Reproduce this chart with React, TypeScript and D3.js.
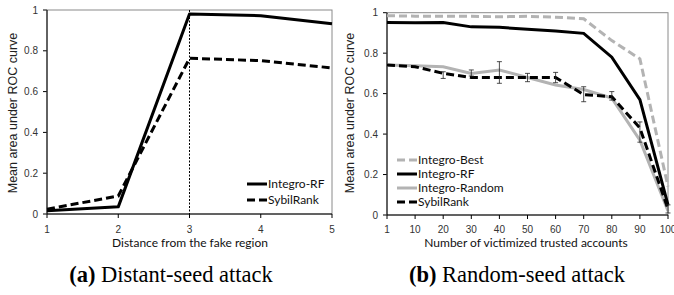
import * as d3 from "d3";

const distCats = [1, 2, 3, 4, 5];
const distRF = [0.016, 0.035, 0.98, 0.972, 0.933];
const distSybil = [0.024, 0.088, 0.763, 0.752, 0.716];

const victimCats = ["1", "10", "20", "30", "40", "50", "60", "70", "80", "90", "100"];
const randBest = [0.985, 0.983, 0.983, 0.982, 0.98, 0.982, 0.978, 0.97, 0.862, 0.772, 0.14];
const randRF = [0.951, 0.95, 0.952, 0.93, 0.928, 0.918, 0.909, 0.898, 0.78, 0.57, 0.05];
const randRandom = [0.741, 0.738, 0.733, 0.7, 0.717, 0.68, 0.643, 0.62, 0.578, 0.37, 0.02];
const randSybil = [0.741, 0.733, 0.7, 0.68, 0.68, 0.68, 0.68, 0.595, 0.585, 0.43, 0.03];
const errCats = ["20", "30", "40", "50", "60", "70", "80", "90", "100"];
const errLow = [0.675, 0.687, 0.651, 0.659, 0.654, 0.56, 0.568, 0.36, 0.01];
const errHigh = [0.708, 0.717, 0.758, 0.7, 0.705, 0.634, 0.61, 0.46, 0.05];

const yTicks = [0, 0.2, 0.4, 0.6, 0.8, 1];
const yTickLabels = ["0", "0.2", "0.4", "0.6", "0.8", "1"];

const tickFont = "'Liberation Sans', Arial, sans-serif";
const legFont = "Lato, 'Open Sans', sans-serif";
const capFont = "'Liberation Serif', 'Times New Roman', serif";
const BLACK = "#000";
const GRAY = "#b3b3b3";

type Style = { color: string; dash?: string; width: number };

function YAxis({ y, x0, x1 }: { y: d3.ScaleLinear<number, number>; x0: number; x1: number }) {
  return (
    <g>
      {yTicks.map((t, i) => (
        <g key={i}>
          <line x1={x0 - 4} x2={x0} y1={y(t)} y2={y(t)} stroke="#000" />
          <text x={x0 - 9} y={y(t)} dy="0.35em" textAnchor="end" fontSize={10} fontFamily={tickFont} fill="#333">
            {yTickLabels[i]}
          </text>
        </g>
      ))}
      <rect x={x0} y={y(1)} width={x1 - x0} height={y(0) - y(1)} fill="none" stroke="#8a8a8a" strokeWidth={1} />
      <line x1={x0} x2={x0} y1={y(1)} y2={y(0)} stroke="#000" />
      <line x1={x0} x2={x1} y1={y(0)} y2={y(0)} stroke="#000" />
    </g>
  );
}

function Legend({ x, y, gap, items }: { x: number; y: number; gap: number; items: { label: string; s: Style }[] }) {
  return (
    <g>
      {items.map((it, i) => (
        <g key={it.label} transform={`translate(${x},${y + i * gap})`}>
          <line x1={0} x2={20} y1={0} y2={0} stroke={it.s.color} strokeWidth={it.s.width} strokeDasharray={it.s.dash} />
          <text x={21} y={0} dy="0.35em" fontSize={12} fontFamily={legFont} fill="#111">
            {it.label}
          </text>
        </g>
      ))}
    </g>
  );
}

function LeftChart() {
  const x = d3.scaleLinear().domain([1, 5]).range([47, 332]);
  const y = d3.scaleLinear().domain([0, 1]).range([214, 10]);
  const line = d3
    .line<number>()
    .x((_, i) => x(distCats[i]))
    .y((d) => y(d));
  const rf: Style = { color: BLACK, width: 3 };
  const sy: Style = { color: BLACK, width: 3, dash: "8,4" };
  return (
    <g>
      <YAxis y={y} x0={47} x1={332} />
      {distCats.map((c) => (
        <g key={c}>
          <line x1={x(c)} x2={x(c)} y1={y(0)} y2={y(0) + 4} stroke="#000" />
          <text x={x(c)} y={229} dy="0.35em" textAnchor="middle" fontSize={10} fontFamily={tickFont} fill="#333">
            {c}
          </text>
        </g>
      ))}
      <line x1={x(3)} x2={x(3)} y1={y(1)} y2={y(0)} stroke="#000" strokeWidth={1} strokeDasharray="2,1.5" />
      <path d={line(distSybil) || ""} fill="none" stroke={sy.color} strokeWidth={sy.width} strokeDasharray={sy.dash} />
      <path d={line(distRF) || ""} fill="none" stroke={rf.color} strokeWidth={rf.width} strokeLinejoin="round" />
      <Legend x={247} y={184} gap={16} items={[{ label: "Integro-RF", s: rf }, { label: "SybilRank", s: sy }]} />
      <text x={190} y={247} textAnchor="middle" fontSize={12} fontFamily={legFont} fill="#111">
        Distance from the fake region
      </text>
      <text transform="translate(17,113) rotate(-90)" textAnchor="middle" fontSize={12.5} fontFamily={tickFont} fill="#222">
        Mean area under ROC curve
      </text>
      <text x={171} y={282} textAnchor="middle" fontSize={22.5} fontFamily={capFont} fill="#000">
        <tspan fontWeight="bold">(a)</tspan> Distant-seed attack
      </text>
    </g>
  );
}

function RightChart() {
  const x = d3.scalePoint<string>().domain(victimCats).range([387, 668]);
  const y = d3.scaleLinear().domain([0, 1]).range([215, 12.7]);
  const line = d3
    .line<number>()
    .x((_, i) => x(victimCats[i]) as number)
    .y((d) => y(d));
  const best: Style = { color: GRAY, width: 3, dash: "8,4" };
  const rf: Style = { color: BLACK, width: 3 };
  const rnd: Style = { color: GRAY, width: 3 };
  const sy: Style = { color: BLACK, width: 3, dash: "8,4" };
  return (
    <g>
      <YAxis y={y} x0={387} x1={668} />
      {victimCats.map((c) => (
        <g key={c}>
          <line x1={x(c) as number} x2={x(c) as number} y1={y(0)} y2={y(0) + 4} stroke="#000" />
          <text x={x(c) as number} y={229} dy="0.35em" textAnchor="middle" fontSize={10} fontFamily={tickFont} fill="#333">
            {c}
          </text>
        </g>
      ))}
      <path d={line(randRandom) || ""} fill="none" stroke={rnd.color} strokeWidth={rnd.width} />
      <path d={line(randBest) || ""} fill="none" stroke={best.color} strokeWidth={best.width} strokeDasharray={best.dash} />
      <path d={line(randSybil) || ""} fill="none" stroke={sy.color} strokeWidth={sy.width} strokeDasharray={sy.dash} />
      <path d={line(randRF) || ""} fill="none" stroke={rf.color} strokeWidth={rf.width} />
      {errCats.map((c, i) => {
        const cx = x(c) as number;
        return (
          <g key={c} stroke="#222" strokeWidth={0.8}>
            <line x1={cx} x2={cx} y1={y(errLow[i])} y2={y(errHigh[i])} />
            <line x1={cx - 2.5} x2={cx + 2.5} y1={y(errLow[i])} y2={y(errLow[i])} />
            <line x1={cx - 2.5} x2={cx + 2.5} y1={y(errHigh[i])} y2={y(errHigh[i])} />
          </g>
        );
      })}
      <Legend
        x={397}
        y={160}
        gap={14}
        items={[
          { label: "Integro-Best", s: best },
          { label: "Integro-RF", s: rf },
          { label: "Integro-Random", s: rnd },
          { label: "SybilRank", s: sy },
        ]}
      />
      <text x={526} y={247} textAnchor="middle" fontSize={12} fontFamily={legFont} fill="#111">
        Number of victimized trusted accounts
      </text>
      <text transform="translate(354,113) rotate(-90)" textAnchor="middle" fontSize={12.5} fontFamily={tickFont} fill="#222">
        Mean area under ROC curve
      </text>
      <text x={517} y={282} textAnchor="middle" fontSize={22.5} fontFamily={capFont} fill="#000">
        <tspan fontWeight="bold">(b)</tspan> Random-seed attack
      </text>
    </g>
  );
}

export default function App() {
  return (
    <svg
      width={674}
      height={295}
      viewBox="0 0 674 295"
      style={{ position: "absolute", left: 0, top: 0, background: "#fff" }}
    >
      <rect width={674} height={295} fill="#fff" />
      <LeftChart />
      <RightChart />
    </svg>
  );
}
